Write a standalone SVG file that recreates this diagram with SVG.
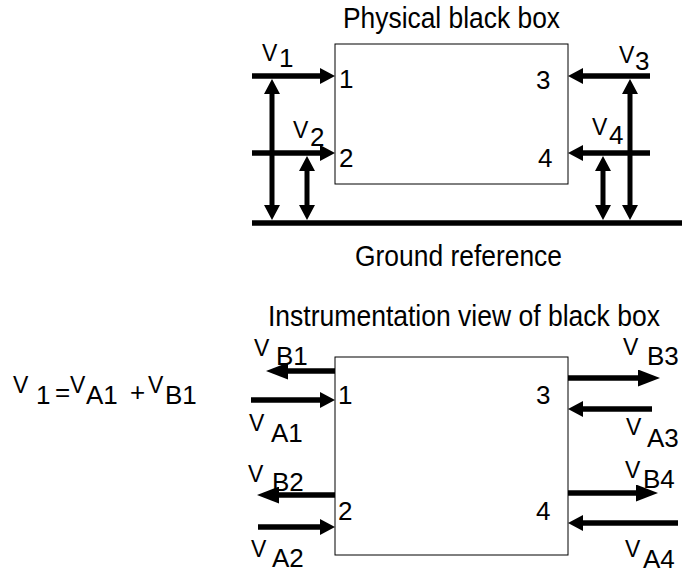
<svg xmlns="http://www.w3.org/2000/svg" width="682" height="569" viewBox="0 0 682 569">
  <defs>
    <marker id="ah" markerUnits="userSpaceOnUse" markerWidth="16" markerHeight="16" viewBox="0 0 15 16" refX="1" refY="8" orient="auto-start-reverse">
      <path d="M0,0 L15,8 L0,16 z" fill="#000"/>
    </marker>
    <marker id="ahl" markerUnits="userSpaceOnUse" markerWidth="23" markerHeight="17" viewBox="0 0 22 17" refX="1" refY="8.5" orient="auto">
      <path d="M0,0 L22,8.5 L0,17 z" fill="#000"/>
    </marker>
  </defs>
  <style>
    .t{font-family:"Liberation Sans",Arial,sans-serif;fill:#000}
    .title{font-size:30px}
    .v{font-size:23px}
    .s{font-size:26px}
    .box{fill:#fff;stroke:#000;stroke-width:1}
    .w{stroke:#000;stroke-width:5.5;fill:none}
    .a{stroke:#000;stroke-width:5.5;fill:none;marker-end:url(#ah)}
    .b{stroke:#000;stroke-width:5.5;fill:none;marker-end:url(#ahl)}
    .d{stroke:#000;stroke-width:5;fill:none;marker-start:url(#ah);marker-end:url(#ah)}
  </style>
  <rect width="682" height="569" fill="#fff"/>

  <g id="physical-box">
    <rect class="box" x="335" y="44" width="233" height="140"/>
    <text class="t title" x="343" y="28" textLength="217" lengthAdjust="spacingAndGlyphs">Physical black box</text>
    <text class="t s" x="339" y="88">1</text>
    <text class="t s" x="339" y="167">2</text>
    <text class="t s" x="536" y="89">3</text>
    <text class="t s" x="538" y="167">4</text>
  </g>

  <g id="ground">
    <text class="t title" x="355" y="266" textLength="207" lengthAdjust="spacingAndGlyphs">Ground reference</text>
  </g>

  <g id="instrument-box">
    <rect class="box" x="335" y="357" width="233" height="198"/>
    <text class="t title" x="268" y="326" textLength="392" lengthAdjust="spacingAndGlyphs">Instrumentation view of black box</text>
    <text class="t s" x="338" y="404">1</text>
    <text class="t s" x="338" y="520">2</text>
    <text class="t s" x="536" y="404">3</text>
    <text class="t s" x="536" y="520">4</text>
  </g>

  <g id="labels-top">
    <text class="t"><tspan class="v" x="262" y="61">V</tspan><tspan class="s" x="279" y="67">1</tspan></text>
    <text class="t"><tspan class="v" x="293" y="138">V</tspan><tspan class="s" x="310" y="146">2</tspan></text>
    <text class="t"><tspan class="v" x="619" y="63">V</tspan><tspan class="s" x="635" y="70">3</tspan></text>
    <text class="t"><tspan class="v" x="592" y="135">V</tspan><tspan class="s" x="609" y="144">4</tspan></text>
  </g>

  <g id="labels-bottom">
    <text class="t"><tspan class="v" x="254" y="356">V</tspan><tspan class="s" x="276" y="365">B1</tspan></text>
    <text class="t"><tspan class="v" x="249" y="431">V</tspan><tspan class="s" x="271" y="442">A1</tspan></text>
    <text class="t"><tspan class="v" x="248" y="482">V</tspan><tspan class="s" x="272" y="491">B2</tspan></text>
    <text class="t"><tspan class="v" x="251" y="557">V</tspan><tspan class="s" x="272" y="567">A2</tspan></text>
    <text class="t"><tspan class="v" x="623" y="355">V</tspan><tspan class="s" x="647" y="365">B3</tspan></text>
    <text class="t"><tspan class="v" x="626" y="435">V</tspan><tspan class="s" x="647" y="447">A3</tspan></text>
    <text class="t"><tspan class="v" x="625" y="478">V</tspan><tspan class="s" x="643" y="488">B4</tspan></text>
    <text class="t"><tspan class="v" x="625" y="557">V</tspan><tspan class="s" x="643" y="568">A4</tspan></text>
  </g>

  <g id="equation">
    <text class="t"><tspan class="v" x="13" y="393">V</tspan><tspan class="s" x="36" y="404">1</tspan><tspan class="s" x="55" y="401">=</tspan><tspan class="v" x="70" y="393">V</tspan><tspan class="s" x="86" y="404">A1</tspan><tspan class="s" x="130" y="401">+</tspan><tspan class="v" x="148" y="393">V</tspan><tspan class="s" x="165" y="404">B1</tspan></text>
  </g>

  <g id="connectors">
    <line class="w" x1="252" y1="223" x2="682" y2="223"/>
    <line class="a" x1="252" y1="76" x2="321" y2="76"/>
    <line class="a" x1="252" y1="153" x2="321" y2="153"/>
    <line class="a" x1="650" y1="76" x2="582" y2="76"/>
    <line class="a" x1="650" y1="153" x2="582" y2="153"/>
    <line class="d" x1="272" y1="93" x2="272" y2="206"/>
    <line class="d" x1="307" y1="170" x2="307" y2="206"/>
    <line class="d" x1="630" y1="93" x2="630" y2="206"/>
    <line class="d" x1="603" y1="170" x2="603" y2="206"/>

    <line class="b" x1="335" y1="371" x2="287" y2="371"/>
    <line class="a" x1="251" y1="400" x2="321" y2="400"/>
    <line class="b" x1="335" y1="495" x2="278" y2="495"/>
    <line class="a" x1="258" y1="527" x2="321" y2="527"/>
    <line class="b" x1="568" y1="378" x2="639" y2="378"/>
    <line class="a" x1="652" y1="409" x2="582" y2="409"/>
    <line class="b" x1="568" y1="493" x2="637" y2="493"/>
    <line class="a" x1="678" y1="523" x2="582" y2="523"/>
  </g>
</svg>
